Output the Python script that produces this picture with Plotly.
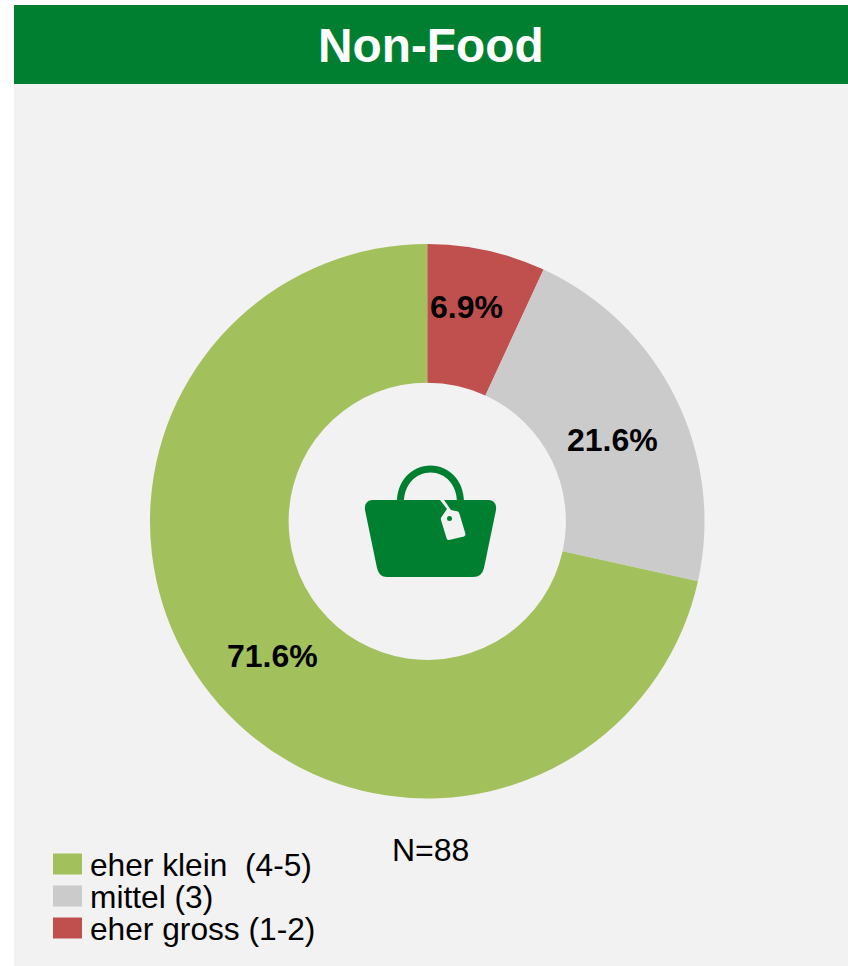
import plotly.graph_objects as go

W, H = 848, 966

# Data
categories = ["eher gross (1-2)", "mittel (3)", "eher klein  (4-5)"]
values = [6.9, 21.6, 71.6]
value_labels = ["6.9%", "21.6%", "71.6%"]
colors = ["#C0504D", "#CBCBCB", "#A2C05B"]
legend_order = ["eher klein  (4-5)", "mittel (3)", "eher gross (1-2)"]
title_text = "Non-Food"
n_text = "N=88"

GREEN = "#007F31"
PANEL = "#F2F2F2"
FONT = "Liberation Sans, Arial, sans-serif"


def fx(x):
    return x / W


def fy(y):
    return 1 - y / H


def path(*segs):
    """Build an SVG path in paper fractions from pixel commands."""
    out = []
    for s in segs:
        if isinstance(s, str):
            out.append(s)
        else:
            out.append(f"{fx(s[0]):.5f},{fy(s[1]):.5f}")
    return " ".join(out)


def rect(x0, y0, x1, y1, color):
    return dict(type="rect", xref="paper", yref="paper", x0=fx(x0), x1=fx(x1),
                y0=fy(y1), y1=fy(y0), fillcolor=color, line_width=0, layer="below")


def circle(cx, cy, r, color, width=0, fill=None):
    return dict(type="circle", xref="paper", yref="paper", x0=fx(cx - r), x1=fx(cx + r),
                y0=fy(cy + r), y1=fy(cy - r), fillcolor=fill or color,
                line=dict(color=color, width=width), layer="above")


def text(x, y, s, size, color="black", bold=False, anchor="center"):
    return dict(xref="paper", yref="paper", x=fx(x), y=fy(y), text=f"<b>{s}</b>" if bold else s,
                showarrow=False, xanchor=anchor, yanchor="middle",
                font=dict(family=FONT, size=size, color=color))


fig = go.Figure(go.Pie(
    labels=categories, values=values, hole=0.5, sort=False, direction="clockwise",
    rotation=0, textinfo="none", marker=dict(colors=colors, line=dict(width=0)),
    domain=dict(x=[fx(150), fx(704.5)], y=[fy(798.5), fy(244)]), showlegend=False,
))

shapes = [rect(14, 84, W, H, PANEL), rect(14, 5, W, 84, GREEN)]

# Shopping-bag icon: handle, body, tag
shapes.append(dict(type="path", xref="paper", yref="paper", layer="above",
                   fillcolor=GREEN, line_width=0,
                   path=path("M", (397, 502), "C", (397, 480.5), (412, 465.5), (430.5, 465.5),
                             "C", (449, 465.5), (464, 480.5), (464, 502), "L", (457, 502),
                             "C", (457, 484.5), (445, 472.5), (430.5, 472.5),
                             "C", (416, 472.5), (404, 484.5), (404, 502), "Z")))
shapes.append(dict(type="path", xref="paper", yref="paper", layer="above",
                   fillcolor=GREEN, line_width=0,
                   path=path("M", (372, 500), "L", (489, 500), "Q", (497, 501), (496, 510),
                             "L", (484, 568), "Q", (482, 577), (473, 577), "L", (387, 577),
                             "Q", (379, 577), (377, 568), "L", (365, 510),
                             "Q", (364, 501), (372, 500), "Z")))
shapes.append(dict(type="path", xref="paper", yref="paper", layer="above",
                   fillcolor=PANEL, line_width=0,
                   path=path("M", (440, 500), "L", (444, 500), "L", (451, 510), "L", (458, 511.5),
                             "Q", (459, 512), (459.5, 514), "L", (465.5, 534),
                             "Q", (465.5, 536), (464, 536.5), "L", (449, 540),
                             "Q", (447, 540.5), (446.5, 538), "L", (441, 520),
                             "Q", (440.5, 518), (441.5, 517), "L", (447, 509), "Z")))
shapes.append(circle(449.5, 518.5, 2.5, GREEN, fill=GREEN))

# Legend swatches
annotations = [
    text(431, 45, title_text, 47.8, "white", True),
    text(466, 307, value_labels[0], 32, bold=True),
    text(612, 440, value_labels[1], 32, bold=True),
    text(272.5, 656, value_labels[2], 32, bold=True),
    text(430.5, 850, n_text, 32),
]
for name, y in zip(legend_order, [864, 896, 928]):
    color = colors[categories.index(name)]
    shapes.append(rect(53, y - 10.5, 82, y + 10.5, color))
    annotations.append(text(88, y + 0.5, name.replace("  ", "&nbsp; "), 31.7, anchor="left"))

fig.update_layout(
    width=W, height=H, margin=dict(l=0, r=0, t=0, b=0, autoexpand=False),
    paper_bgcolor="white", plot_bgcolor="white", shapes=shapes, annotations=annotations,
    showlegend=False, font=dict(family=FONT),
)

fig.write_html("out.html", config=dict(displayModeBar=False),
               post_script="document.body.style.margin='0';document.documentElement.style.overflow='hidden';")
